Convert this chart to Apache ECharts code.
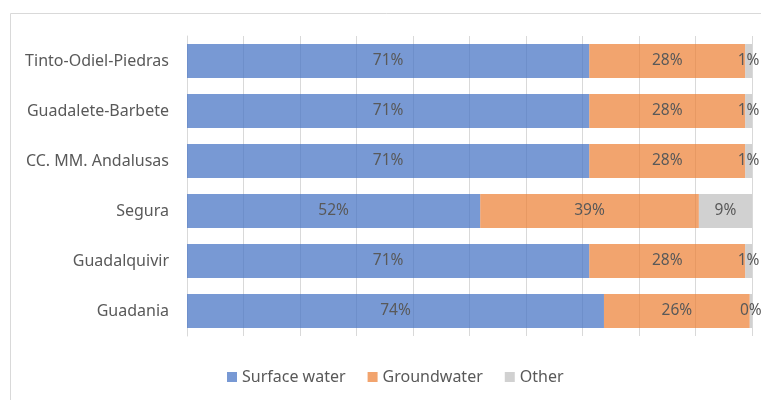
<!DOCTYPE html>
<html>
<head>
<meta charset="utf-8">
<script src="https://cdn.jsdelivr.net/npm/echarts@6/dist/echarts.min.js"></script>
<style>
  html, body { margin: 0; padding: 0; background: #fff; }
  #chart { width: 761px; height: 400px; }
</style>
</head>
<body>
<div id="chart"></div>
<script>
// categories, bottom to top (as the category axis draws them)
const basins = ['Guadania', 'Guadalquivir', 'Segura', 'CC. MM. Andalusas', 'Guadalete-Barbete', 'Tinto-Odiel-Piedras'];
const surfaceWater = [73.8, 71.2, 51.9, 71.2, 71.2, 71.2];
const groundwater = [25.8, 27.6, 38.7, 27.6, 27.6, 27.6];
const other = [0.4, 1.2, 9.4, 1.2, 1.2, 1.2];

const seriesNames = ['Surface water', 'Groundwater', 'Other'];
const seriesColors = ['rgba(68,114,196,0.72)', 'rgba(237,125,49,0.7)', 'rgba(190,190,190,0.7)'];
const font = 'Noto Sans';

function makeSeries(name, data, color) {
  return {
    name: name,
    type: 'bar',
    stack: 'total',
    barCategoryGap: '32%',
    data: data,
    itemStyle: { color: color },
    label: {
      show: true,
      position: 'inside',
      color: '#595959',
      fontFamily: font,
      fontSize: 15.5,
      formatter: p => Math.round(p.value) + '%'
    }
  };
}

const option = {
  animation: false,
  graphic: [{
    type: 'rect',
    shape: { x: 10.5, y: 13.5, width: 900, height: 600 },
    style: { fill: 'none', stroke: '#d9d9d9', lineWidth: 1 },
    z: -10
  }],
  legend: {
    data: seriesNames,
    bottom: 10,
    left: 222,
    icon: 'rect',
    itemWidth: 10,
    itemHeight: 10,
    itemGap: 22,
    textStyle: { color: '#595959', fontFamily: font, fontSize: 16 }
  },
  grid: {
    left: 187,
    right: 9,
    top: 36,
    bottom: 64,
    containLabel: false
  },
  xAxis: {
    type: 'value',
    min: 0,
    max: 100,
    interval: 10,
    axisLabel: { show: false },
    axisLine: { show: false },
    axisTick: { show: false },
    splitLine: { lineStyle: { color: '#d9d9d9', width: 1 } }
  },
  yAxis: {
    type: 'category',
    data: basins,
    axisTick: { show: false },
    axisLine: { lineStyle: { color: '#d9d9d9' } },
    axisLabel: { color: '#595959', fontFamily: font, fontSize: 16, margin: 18 }
  },
  series: [
    makeSeries(seriesNames[0], surfaceWater, seriesColors[0]),
    makeSeries(seriesNames[1], groundwater, seriesColors[1]),
    makeSeries(seriesNames[2], other, seriesColors[2])
  ]
};

const myChart = echarts.init(document.getElementById('chart'));
myChart.setOption(option);
</script>
</body>
</html>
